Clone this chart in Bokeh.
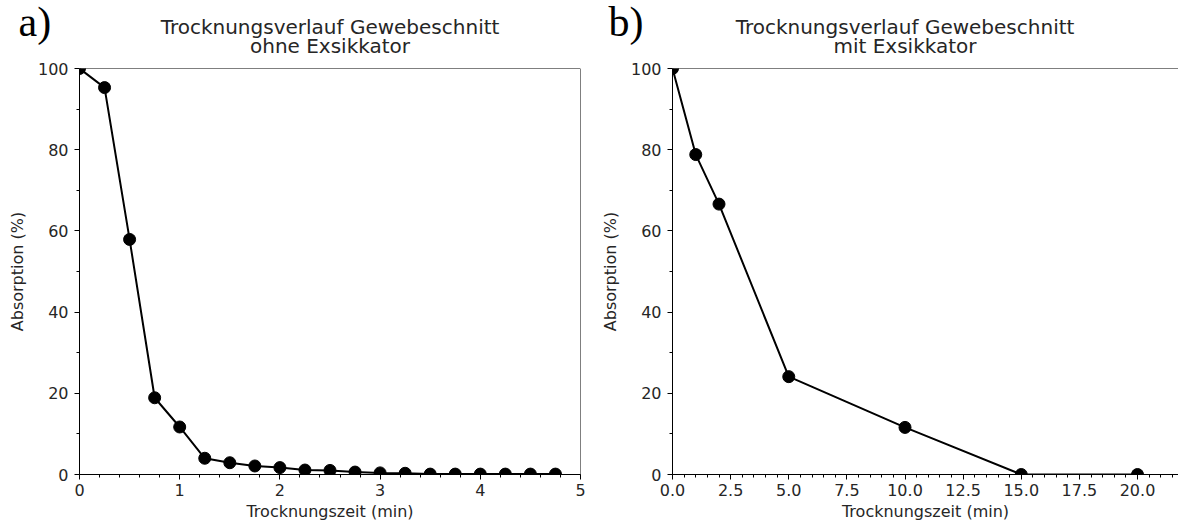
from bokeh.plotting import figure
from bokeh.layouts import row, column
from bokeh.models import FixedTicker, PrintfTickFormatter, Span, Range1d
from bokeh.core.properties import value
from bokeh.embed import file_html
from bokeh.resources import INLINE

# a) drying without desiccator
time_a = [0, 0.25, 0.5, 0.75, 1.0, 1.25, 1.5, 1.75, 2.0, 2.25, 2.5, 2.75, 3.0,
          3.25, 3.5, 3.75, 4.0, 4.25, 4.5, 4.75]
absorb_a = [100, 95.3, 57.9, 18.9, 11.7, 4.0, 2.9, 2.1, 1.7, 1.1, 1.0, 0.6, 0.4,
            0.3, 0.1, 0.1, 0.1, 0.1, 0.1, 0.1]

# b) drying with desiccator
time_b = [0, 1, 2, 5, 10, 15, 20]
absorb_b = [100, 78.8, 66.6, 24.1, 11.6, 0, 0]

xticks_a = [0, 1, 2, 3, 4, 5]
xminor_a = [i * 0.2 for i in range(26)]
xticks_b = [0, 2.5, 5, 7.5, 10, 12.5, 15, 17.5, 20]
xminor_b = [i * 0.5 for i in range(44)]
yticks = [0, 20, 40, 60, 80, 100]
yminor = [10, 30, 50, 70, 90]

title_line1 = "Trocknungsverlauf Gewebeschnitt"
subtitle_a = "ohne Exsikkator"
subtitle_b = "mit Exsikkator"

FONT = "DejaVu Sans"
TXT = "#262626"
HEAD_H = 58


def make_header(width, letter, line2, frame_center):
    """Strip above a panel holding the panel letter and the two-line heading."""
    h = figure(width=width, height=HEAD_H, output_backend="svg", toolbar_location=None,
               x_range=Range1d(0, width), y_range=Range1d(HEAD_H, 0),
               min_border=0, x_axis_type=None, y_axis_type=None)
    h.title = None
    h.outline_line_color = None
    h.grid.visible = False
    h.text(x=[18], y=[21], text=[letter], text_font=value("Liberation Serif"),
           text_font_size="42px", text_color="black", text_baseline="alphabetic",
           text_align="left")
    h.text(x=[frame_center, frame_center], y=[26, 45], text=[title_line1, line2],
           text_font=value(FONT), text_font_size="20px", text_color=TXT,
           text_baseline="alphabetic", text_align="center")
    return h


def make_panel(x, y, x_end, xticks, xminor, width, left, right, fmt):
    p = figure(width=width, height=528 - HEAD_H, output_backend="svg",
               toolbar_location=None,
               x_range=Range1d(0, x_end), y_range=Range1d(0, 100),
               min_border_left=left, min_border_right=right,
               min_border_top=10, min_border_bottom=54)
    p.title = None
    p.grid.visible = False
    p.outline_line_color = None

    p.xaxis.ticker = FixedTicker(ticks=xticks, minor_ticks=xminor)
    p.yaxis.ticker = FixedTicker(ticks=yticks, minor_ticks=yminor)
    if fmt:
        p.xaxis.formatter = PrintfTickFormatter(format=fmt)
    p.xaxis.axis_label = "Trocknungszeit (min)"
    p.yaxis.axis_label = "Absorption (%)"
    for ax in (p.xaxis, p.yaxis):
        ax.axis_line_color = "black"
        ax.axis_line_width = 1
        ax.major_tick_out = 5
        ax.major_tick_in = 0
        ax.minor_tick_out = 3
        ax.minor_tick_in = 0
        ax.major_tick_line_color = "black"
        ax.minor_tick_line_color = "black"
        ax.major_label_text_font = FONT
        ax.major_label_text_font_size = "16px"
        ax.major_label_text_color = TXT
        ax.axis_label_text_font = FONT
        ax.axis_label_text_font_size = "16px"
        ax.axis_label_text_font_style = "normal"
        ax.axis_label_text_color = TXT
    p.yaxis.major_label_standoff = 6
    p.yaxis.axis_label_standoff = 8
    p.xaxis.major_label_standoff = 4
    p.xaxis.axis_label_standoff = 3

    # top border line
    p.add_layout(Span(location=100, dimension="width", line_color="black", line_width=1))

    p.line(x, y, line_color="black", line_width=2)
    p.scatter(x, y, size=12, fill_color="black", line_color="black")
    return p


pa = make_panel(time_a, absorb_a, 5, xticks_a, xminor_a, 590, 79, 10, None)
# right-hand frame edge of panel a
pa.add_layout(Span(location=5, dimension="height", line_color="black", line_width=1))
ha = make_header(590, "a)", subtitle_a, 79 + 501 / 2)

pb = make_panel(time_b, absorb_b, 506 / 23.25, xticks_b, xminor_b, 588, 82, 0, "%.1f")
hb = make_header(588, "b)", subtitle_b, 82 + 465 / 2)

layout = row(column(row(ha), pa, spacing=0), column(row(hb), pb, spacing=0), spacing=0)
open("out.html", "w").write(file_html(layout, INLINE))
